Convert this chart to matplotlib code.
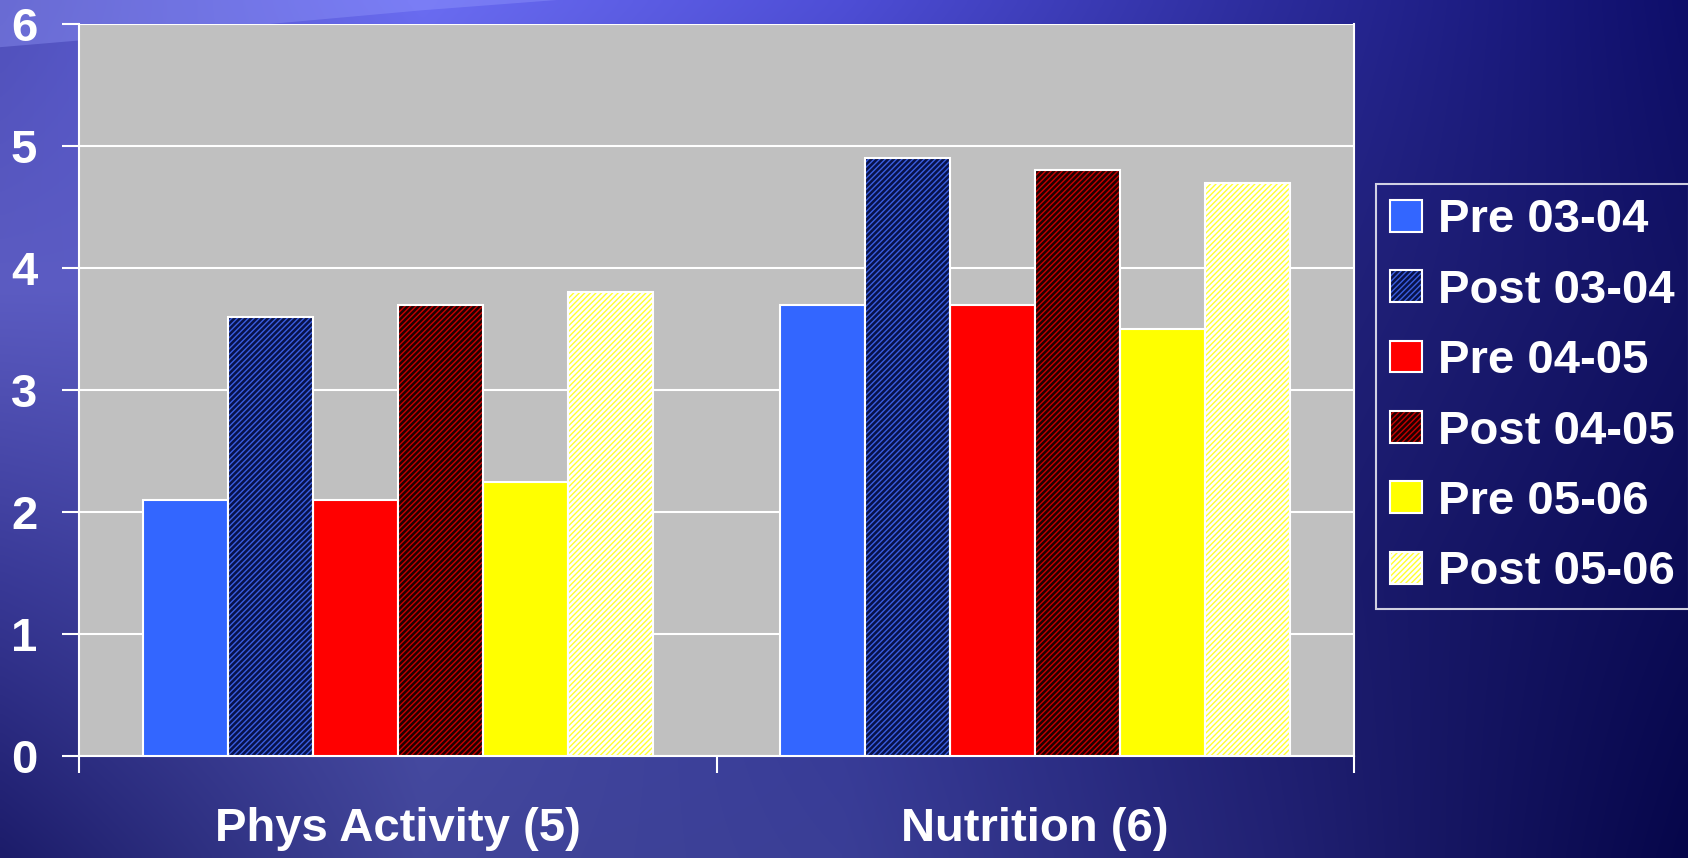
import numpy as np
import matplotlib
matplotlib.use("Agg")
import matplotlib.pyplot as plt
from matplotlib.colors import to_rgb
from matplotlib.patches import Patch, Polygon

# ---- data -------------------------------------------------------------
categories = ["Phys Activity (5)", "Nutrition (6)"]
series = ["Pre 03-04", "Post 03-04", "Pre 04-05", "Post 04-05", "Pre 05-06", "Post 05-06"]
pre_0304 = [2.1, 3.7]
post_0304 = [3.6, 4.9]
pre_0405 = [2.1, 3.7]
post_0405 = [3.7, 4.8]
pre_0506 = [2.25, 3.5]
post_0506 = [3.8, 4.7]
yticks = [0, 1, 2, 3, 4, 5, 6]

values = [pre_0304, post_0304, pre_0405, post_0405, pre_0506, post_0506]

# face colour, hatch colour (None = solid)
styles = [
    ("#3366ff", None),
    ("#08124a", "#3a5ee0"),
    ("#ff0000", None),
    ("#200000", "#c80000"),
    ("#ffff00", None),
    ("#ffffff", "#ffff30"),
]

W, H, DPI = 1688, 858, 100
plt.rcParams["font.family"] = ["Liberation Sans", "DejaVu Sans"]
plt.rcParams["font.weight"] = "bold"
plt.rcParams["hatch.linewidth"] = 1.0

fig = plt.figure(figsize=(W / DPI, H / DPI), dpi=DPI)

# ---- gradient backdrop ------------------------------------------------
grid = [
    ["#5050bc", "#6a6cf2", "#4e4ed6", "#2c2c9c", "#0e0e6a"],
    ["#5c5cc2", "#5a5cc8", "#3a3aa8", "#24247e", "#121262"],
    ["#3a3a98", "#4a4ea8", "#34389a", "#1e1e72", "#0c0c56"],
    ["#1c1c6a", "#42469a", "#3a3e96", "#222274", "#06064a"],
]
small = np.array([[to_rgb(c) for c in row] for row in grid])
ys = np.linspace(0, 1, small.shape[0])
xs = np.linspace(0, 1, small.shape[1])
yy = np.linspace(0, 1, 200)
xx = np.linspace(0, 1, 400)
tmp = np.empty((small.shape[0], xx.size, 3))
for ch in range(3):
    for r in range(small.shape[0]):
        tmp[r, :, ch] = np.interp(xx, xs, small[r, :, ch])
img = np.empty((yy.size, xx.size, 3))
for ch in range(3):
    for c in range(xx.size):
        img[:, c, ch] = np.interp(yy, ys, tmp[:, c, ch])

bg = fig.add_axes([0, 0, 1, 1], zorder=-10)
bg.imshow(img, aspect="auto", extent=[0, 1, 1, 0], interpolation="bicubic")
# light swoosh across the top-left corner
bg.add_patch(Polygon([[0, 0], [0, 0.055], [0.12, 0.035], [0.25, 0.012], [0.33, 0], [0, 0]],
                     closed=True, facecolor="#9aa0ff", alpha=0.35, lw=0))
bg.set_xlim(0, 1)
bg.set_ylim(1, 0)
bg.axis("off")

# ---- bar chart --------------------------------------------------------
ax = fig.add_axes([79 / W, 1 - 756 / H, (1354 - 79) / W, (756 - 24) / H])
ax.set_facecolor("#c0c0c0")

x = np.arange(len(categories))
group_w = 0.8
bw = group_w / len(series)
HATCH = "//////"
handles = []
for i, (name, vals, (fc, hc)) in enumerate(zip(series, values, styles)):
    pos = x - group_w / 2 + bw * (i + 0.5)
    if hc is None:
        ax.bar(pos, vals, width=bw, color=fc, edgecolor="white", linewidth=1.5, zorder=3)
        handles.append(Patch(facecolor=fc, edgecolor="white", linewidth=1.5))
    else:
        ax.bar(pos, vals, width=bw, color=fc, edgecolor=hc, hatch=HATCH, linewidth=0, zorder=3)
        ax.bar(pos, vals, width=bw, fill=False, edgecolor="white", linewidth=1.5, zorder=4)
        handles.append((Patch(facecolor=fc, edgecolor=hc, hatch=HATCH, linewidth=0),
                        Patch(fill=False, edgecolor="white", linewidth=1.5)))

ax.set_xlim(-0.5, len(categories) - 0.5)
ax.set_ylim(0, 6)
ax.set_yticks(yticks)
ax.set_yticklabels([str(t) for t in yticks])
ax.yaxis.grid(True, color="white", linewidth=1.5, zorder=0)
ax.set_axisbelow(True)

ax.set_xticks(x)
ax.set_xticklabels(categories)
ax.set_xticks(np.arange(len(categories) + 1) - 0.5, minor=True)
ax.tick_params(axis="x", which="major", length=0, pad=37, labelsize=34, labelcolor="white")
ax.tick_params(axis="x", which="minor", length=12, width=1.5, color="white", direction="out")
ax.tick_params(axis="y", length=12, width=1.5, color="white", direction="out",
               pad=18, labelsize=34, labelcolor="white")
for lab in ax.get_xticklabels() + ax.get_yticklabels():
    lab.set_fontweight("bold")

for side in ["left", "right", "bottom", "top"]:
    ax.spines[side].set_color("white")
    ax.spines[side].set_linewidth(1.5)
ax.spines["top"].set_visible(False)

leg = fig.legend(handles, series, loc="upper left",
                 bbox_to_anchor=(1376 / W, 1 - 184 / H), bbox_transform=fig.transFigure,
                 frameon=True, fancybox=False, facecolor="none", edgecolor="white",
                 prop={"size": 34, "weight": "bold"}, labelcolor="white",
                 handlelength=0.68, handleheight=0.66, handletextpad=0.33,
                 labelspacing=0.56, borderpad=0.3, borderaxespad=0)
leg.get_frame().set_linewidth(1.5)

fig.savefig("out.png", dpi=DPI)
